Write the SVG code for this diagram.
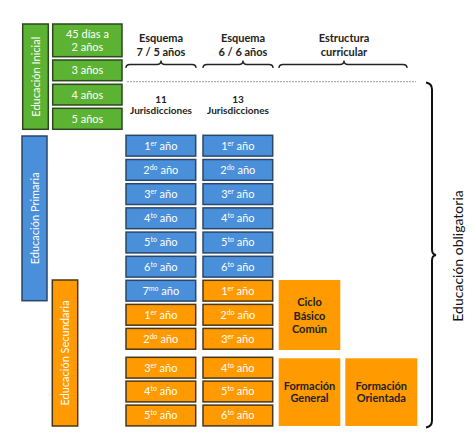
<svg xmlns="http://www.w3.org/2000/svg" width="474" height="444" viewBox="0 0 474 444">
<style>
.g{fill:#5cb232;stroke:#2d4722;stroke-width:1.5}
.b{fill:#4a8fd9;stroke:#2c4668;stroke-width:1.5}
.o{fill:#ff9a00;stroke:#4a3718;stroke-width:1.5}
.of{fill:#ff9a00}
.t{font-family:Lato,"Open Sans",sans-serif;font-size:11px;fill:#fff;text-anchor:middle}
.h{font-family:Lato,"Open Sans",sans-serif;font-size:11px;font-weight:bold;fill:#222;text-anchor:middle}
.s{font-size:7px}
.br{fill:none;stroke:#222;stroke-width:1.4}
</style>
<rect width="474" height="444" fill="#fff"/>
<g id="inicial">
<rect class="g" x="22.7" y="24" width="25.6" height="105.3"/>
<text class="t" transform="translate(39.5,76.7) rotate(-90)">Educación Inicial</text>
</g>
<g id="ini-45">
<rect class="g" x="52.7" y="24" width="69.3" height="32.7"/>
<text class="t" x="87.4" y="38">45 días a</text>
<text class="t" x="87.4" y="51">2 años</text>
</g>
<g id="ini-3"><rect class="g" x="52.7" y="60" width="69.3" height="20.7"/><text class="t" x="87.4" y="74.3">3 años</text></g>
<g id="ini-4"><rect class="g" x="52.7" y="84.3" width="69.3" height="20.7"/><text class="t" x="87.4" y="98.6">4 años</text></g>
<g id="ini-5"><rect class="g" x="52.7" y="108.3" width="69.3" height="21"/><text class="t" x="87.4" y="122.8">5 años</text></g>
<g id="primaria">
<rect class="b" x="22" y="136" width="25" height="164.7"/>
<text class="t" transform="translate(38.5,218.3) rotate(-90)">Educación Primaria</text>
</g>
<g id="secundaria">
<rect class="o" x="52.3" y="280" width="25.4" height="146"/>
<text class="t" transform="translate(69,353) rotate(-90)">Educación Secundaria</text>
</g>
<g id="headers">
<text class="h" x="161" y="42">Esquema</text>
<text class="h" x="161" y="56">7 / 5 años</text>
<text class="h" x="243" y="42">Esquema</text>
<text class="h" x="243" y="56">6 / 6 años</text>
<text class="h" x="344" y="42">Estructura</text>
<text class="h" x="344" y="56">curricular</text>
<text class="h" x="161" y="102.5" style="font-size:10px">11</text>
<text class="h" x="161" y="114" style="font-size:10px">Jurisdicciones</text>
<text class="h" x="238" y="102.5" style="font-size:10px">13</text>
<text class="h" x="238" y="114" style="font-size:10px">Jurisdicciones</text>
</g>
<g id="connectors">
<path class="br" d="M126,68 q0,-3.5 4,-3.5 h27 q4,0 4,-4 q0,4 4,4 h27 q4,0 4,3.5"/>
<path class="br" d="M203,68 q0,-3.5 4,-3.5 h32 q4,0 4,-4 q0,4 4,4 h22 q4,0 4,3.5"/>
<path class="br" d="M279,68 q0,-3.5 4,-3.5 h57 q4,0 4,-4 q0,4 4,4 h55 q4,0 4,3.5"/>
<line x1="127" y1="81.7" x2="416" y2="81.7" stroke="#999" stroke-width="1" stroke-dasharray="2,1"/>
<path d="M426,82.5 q6,1 6,7 v160 q0,5 4,5.5 q-4,0.5 -4,5.5 v160 q0,6 -6,7" fill="none" stroke="#111" stroke-width="2"/>
<text class="h" style="font-size:14px;font-weight:normal;fill:#111" transform="translate(463,256) rotate(-90)">Educación obligatoria</text>
</g>
<g id="c1-r1"><rect class="b" x="126" y="135.3" width="69.7" height="20.8"/><text class="t" x="160.8" y="149.5">1<tspan class="s" dy="-4">er</tspan><tspan dy="4"> año</tspan></text></g>
<g id="c1-r2"><rect class="b" x="126" y="159.5" width="69.7" height="20.8"/><text class="t" x="160.8" y="173.7">2<tspan class="s" dy="-4">do</tspan><tspan dy="4"> año</tspan></text></g>
<g id="c1-r3"><rect class="b" x="126" y="183.7" width="69.7" height="20.8"/><text class="t" x="160.8" y="197.9">3<tspan class="s" dy="-4">er</tspan><tspan dy="4"> año</tspan></text></g>
<g id="c1-r4"><rect class="b" x="126" y="207.9" width="69.7" height="20.8"/><text class="t" x="160.8" y="222.1">4<tspan class="s" dy="-4">to</tspan><tspan dy="4"> año</tspan></text></g>
<g id="c1-r5"><rect class="b" x="126" y="232.1" width="69.7" height="20.8"/><text class="t" x="160.8" y="246.3">5<tspan class="s" dy="-4">to</tspan><tspan dy="4"> año</tspan></text></g>
<g id="c1-r6"><rect class="b" x="126" y="256.3" width="69.7" height="20.8"/><text class="t" x="160.8" y="270.5">6<tspan class="s" dy="-4">to</tspan><tspan dy="4"> año</tspan></text></g>
<g id="c1-r7"><rect class="b" x="126" y="280.3" width="69.7" height="20.8"/><text class="t" x="160.8" y="294.5">7<tspan class="s" dy="-4">mo</tspan><tspan dy="4"> año</tspan></text></g>
<g id="c1-r8"><rect class="o" x="126" y="304.4" width="69.7" height="20.8"/><text class="t" x="160.8" y="318.6">1<tspan class="s" dy="-4">er</tspan><tspan dy="4"> año</tspan></text></g>
<g id="c1-r9"><rect class="o" x="126" y="328.4" width="69.7" height="20.8"/><text class="t" x="160.8" y="342.6">2<tspan class="s" dy="-4">do</tspan><tspan dy="4"> año</tspan></text></g>
<g id="c1-r10"><rect class="o" x="126" y="357.3" width="69.7" height="20.8"/><text class="t" x="160.8" y="371.5">3<tspan class="s" dy="-4">er</tspan><tspan dy="4"> año</tspan></text></g>
<g id="c1-r11"><rect class="o" x="126" y="381.1" width="69.7" height="20.8"/><text class="t" x="160.8" y="395.3">4<tspan class="s" dy="-4">to</tspan><tspan dy="4"> año</tspan></text></g>
<g id="c1-r12"><rect class="o" x="126" y="405.1" width="69.7" height="20.8"/><text class="t" x="160.8" y="419.3">5<tspan class="s" dy="-4">to</tspan><tspan dy="4"> año</tspan></text></g>
<g id="c2-r1"><rect class="b" x="203" y="135.3" width="69.7" height="20.8"/><text class="t" x="237.8" y="149.5">1<tspan class="s" dy="-4">er</tspan><tspan dy="4"> año</tspan></text></g>
<g id="c2-r2"><rect class="b" x="203" y="159.5" width="69.7" height="20.8"/><text class="t" x="237.8" y="173.7">2<tspan class="s" dy="-4">do</tspan><tspan dy="4"> año</tspan></text></g>
<g id="c2-r3"><rect class="b" x="203" y="183.7" width="69.7" height="20.8"/><text class="t" x="237.8" y="197.9">3<tspan class="s" dy="-4">er</tspan><tspan dy="4"> año</tspan></text></g>
<g id="c2-r4"><rect class="b" x="203" y="207.9" width="69.7" height="20.8"/><text class="t" x="237.8" y="222.1">4<tspan class="s" dy="-4">to</tspan><tspan dy="4"> año</tspan></text></g>
<g id="c2-r5"><rect class="b" x="203" y="232.1" width="69.7" height="20.8"/><text class="t" x="237.8" y="246.3">5<tspan class="s" dy="-4">to</tspan><tspan dy="4"> año</tspan></text></g>
<g id="c2-r6"><rect class="b" x="203" y="256.3" width="69.7" height="20.8"/><text class="t" x="237.8" y="270.5">6<tspan class="s" dy="-4">to</tspan><tspan dy="4"> año</tspan></text></g>
<g id="c2-r7"><rect class="o" x="203" y="280.3" width="69.7" height="20.8"/><text class="t" x="237.8" y="294.5">1<tspan class="s" dy="-4">er</tspan><tspan dy="4"> año</tspan></text></g>
<g id="c2-r8"><rect class="o" x="203" y="304.4" width="69.7" height="20.8"/><text class="t" x="237.8" y="318.6">2<tspan class="s" dy="-4">do</tspan><tspan dy="4"> año</tspan></text></g>
<g id="c2-r9"><rect class="o" x="203" y="328.4" width="69.7" height="20.8"/><text class="t" x="237.8" y="342.6">3<tspan class="s" dy="-4">er</tspan><tspan dy="4"> año</tspan></text></g>
<g id="c2-r10"><rect class="o" x="203" y="357.3" width="69.7" height="20.8"/><text class="t" x="237.8" y="371.5">4<tspan class="s" dy="-4">to</tspan><tspan dy="4"> año</tspan></text></g>
<g id="c2-r11"><rect class="o" x="203" y="381.1" width="69.7" height="20.8"/><text class="t" x="237.8" y="395.3">5<tspan class="s" dy="-4">to</tspan><tspan dy="4"> año</tspan></text></g>
<g id="c2-r12"><rect class="o" x="203" y="405.1" width="69.7" height="20.8"/><text class="t" x="237.8" y="419.3">6<tspan class="s" dy="-4">to</tspan><tspan dy="4"> año</tspan></text></g>
<g id="cbc">
<rect class="of" x="278.7" y="280" width="61.6" height="70"/>
<text class="h" x="309.5" y="306">Ciclo</text>
<text class="h" x="309.5" y="319.5">Básico</text>
<text class="h" x="309.5" y="332.5">Común</text>
</g>
<g id="fgeneral">
<rect class="of" x="278.7" y="358.3" width="61.6" height="67.7"/>
<text class="h" x="309.5" y="389.5">Formación</text>
<text class="h" x="309.5" y="402.3">General</text>
</g>
<g id="forientada">
<rect class="of" x="345.3" y="358.3" width="72" height="67.7"/>
<text class="h" x="381.3" y="389.5">Formación</text>
<text class="h" x="381.3" y="402.3">Orientada</text>
</g>
</svg>
